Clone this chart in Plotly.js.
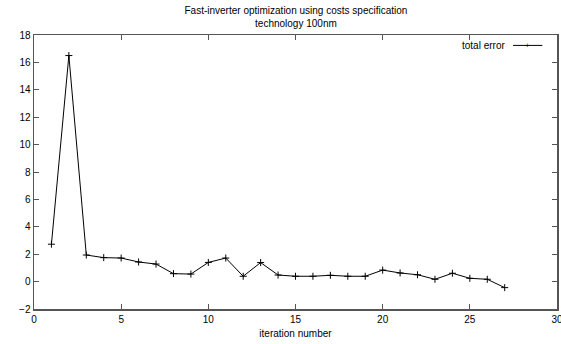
<!DOCTYPE html>
<html>
<head>
<meta charset="utf-8">
<script src="https://cdn.plot.ly/plotly-3.0.1.min.js"></script>
<style>html,body{margin:0;padding:0;background:#fff;}#chart{width:561px;height:344px;}</style>
</head>
<body>
<div id="chart"></div>
<script>
const iterations = [1,2,3,4,5,6,7,8,9,10,11,12,13,14,15,16,17,18,19,20,21,22,23,24,25,26,27];
const totalError = [2.73,16.5,1.94,1.75,1.72,1.43,1.28,0.58,0.55,1.4,1.72,0.39,1.39,0.48,0.39,0.39,0.46,0.39,0.39,0.84,0.63,0.5,0.17,0.61,0.24,0.17,-0.44];
const seriesName = 'total error';
const titleLines = ['Fast-inverter optimization using costs specification','technology 100nm'];
const xLabel = 'iteration number';

const FONT = 'Liberation Sans, Arial, Helvetica, sans-serif';
const axisCommon = {
  showline: true, mirror: 'ticks', linecolor: '#555', linewidth: 1.5,
  ticks: 'inside', ticklen: 5, tickcolor: '#555', tickwidth: 1,
  showgrid: false, zeroline: false, ticklabeloverflow: 'allow',
  tickfont: {family: FONT, size: 10, color: '#000'}
};

const trace = {
  x: iterations, y: totalError, name: seriesName,
  type: 'scatter', mode: 'lines+markers',
  line: {color: '#000', width: 1},
  marker: {symbol: 'cross-thin', size: 5, line: {color: '#000', width: 1}, color: '#000'},
  showlegend: false
};

const layout = {
  width: 561, height: 344,
  margin: {l: 34, r: 4, t: 35, b: 35},
  paper_bgcolor: '#fff', plot_bgcolor: '#fff',
  title: {text: titleLines.join('<br>'), font: {family: FONT, size: 10, color: '#000'},
          x: 0.5275, xanchor: 'center', y: 1, yanchor: 'top', pad: {t: 14}},
  xaxis: Object.assign({}, axisCommon, {range: [0, 30], dtick: 5, tick0: 0,
          title: {text: xLabel, font: {family: FONT, size: 10, color: '#000'}, standoff: 6}}),
  yaxis: Object.assign({}, axisCommon, {range: [-2, 18], dtick: 2, tick0: 0}),
  annotations: [
    {xref: 'paper', yref: 'paper', x: 0.905, y: 0.962, xanchor: 'right', yanchor: 'middle',
     text: seriesName, showarrow: false, font: {family: FONT, size: 10, color: '#000'}},
    {xref: 'paper', yref: 'paper', x: 0.944, y: 0.962, xanchor: 'center', yanchor: 'middle',
     text: '+', showarrow: false, font: {family: FONT, size: 8, color: '#000'}}
  ],
  shapes: [
    {type: 'line', xref: 'paper', yref: 'paper', x0: 0.916, x1: 0.972, y0: 0.962, y1: 0.962,
     line: {color: '#000', width: 1}}
  ]
};

Plotly.newPlot('chart', [trace], layout, {staticPlot: true, displayModeBar: false});
</script>
</body>
</html>
